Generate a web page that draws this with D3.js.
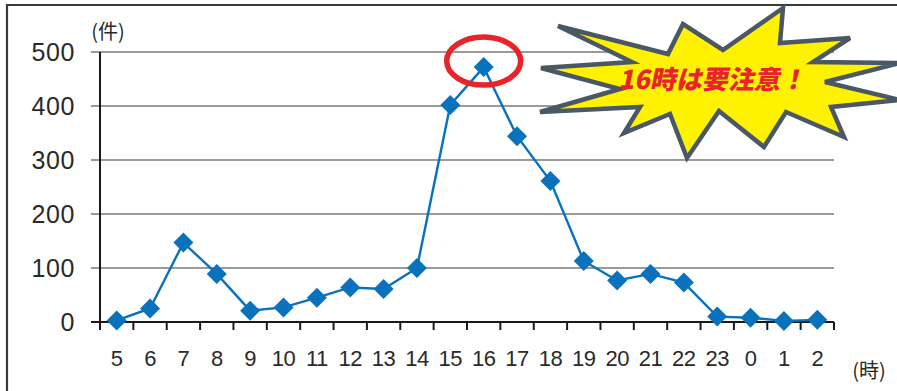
<!DOCTYPE html>
<html lang="ja">
<head>
<meta charset="utf-8">
<script src="https://cdn.jsdelivr.net/npm/d3@7"></script>
<style>
  html, body { margin: 0; padding: 0; background: #fff; }
  svg { display: block; }
</style>
</head>
<body>
<svg id="chart" width="897" height="391"></svg>
<script>
// Hour of day (5時 through 2時 of the next day)
const hours = ["5","6","7","8","9","10","11","12","13","14","15","16","17","18","19","20","21","22","23","0","1","2"];
// Number of cases per hour
const counts = [3, 25, 147, 89, 21, 27, 45, 64, 61, 100, 402, 472, 344, 261, 113, 77, 89, 73, 10, 8, 2, 4];
// Value axis ticks
const yTicks = [0, 100, 200, 300, 400, 500];
// Callout text and the hour it points at
const calloutText = "16時は要注意！";
const peakHour = "16";

const svg = d3.select("#chart");
const W = 897, H = 391;

const x = d3.scaleBand().domain(hours).range([100, 834]).padding(0);
const y = d3.scaleLinear().domain([0, 500]).range([322, 52]);

// panel frame (top and left edges)
svg.append("path")
  .attr("d", `M7,${H} L7,5 L${W},5`)
  .attr("fill", "none").attr("stroke", "#3a3a3a").attr("stroke-width", 2.2);

// horizontal gridlines
svg.append("g").selectAll("line")
  .data(yTicks.filter(d => d > 0))
  .join("line")
  .attr("x1", 91).attr("x2", 834)
  .attr("y1", d => y(d)).attr("y2", d => y(d))
  .attr("stroke", "#9a9a9a").attr("stroke-width", 2);

// y tick labels
svg.append("g").selectAll("text")
  .data(yTicks)
  .join("text")
  .attr("x", 75).attr("y", d => y(d))
  .attr("dy", "0.36em")
  .attr("text-anchor", "end")
  .attr("font-family", "'Liberation Sans', Arial, sans-serif")
  .attr("font-size", 25)
  .attr("letter-spacing", 0.6)
  .attr("fill", "#2a2a2a")
  .text(d => d);

// y axis line
svg.append("line")
  .attr("x1", 100).attr("x2", 100)
  .attr("y1", y(500)).attr("y2", y(0) + 8)
  .attr("stroke", "#1a1a1a").attr("stroke-width", 2);

// x axis line with boundary ticks
const gx = svg.append("g").attr("transform", `translate(0,${y(0)})`);
gx.append("line")
  .attr("x1", 91).attr("x2", 834)
  .attr("stroke", "#1a1a1a").attr("stroke-width", 2.2);
const bounds = hours.map(h => x(h)).concat([x(hours[hours.length - 1]) + x.bandwidth()]);
gx.selectAll("line.tk").data(bounds).join("line")
  .attr("class", "tk")
  .attr("x1", d => d).attr("x2", d => d)
  .attr("y1", 0).attr("y2", 8)
  .attr("stroke", "#1a1a1a").attr("stroke-width", 2);

// x tick labels
svg.append("g").selectAll("text")
  .data(hours)
  .join("text")
  .attr("x", d => x(d) + x.bandwidth() / 2)
  .attr("y", 366)
  .attr("text-anchor", "middle")
  .attr("font-family", "'Liberation Sans', Arial, sans-serif")
  .attr("font-size", 22)
  .attr("letter-spacing", -0.5)
  .attr("fill", "#2a2a2a")
  .text(d => d);

// unit labels
svg.append("text")
  .attr("x", 108).attr("y", 39)
  .attr("text-anchor", "middle")
  .attr("font-family", "'Noto Sans CJK JP', sans-serif")
  .attr("font-size", 20)
  .attr("fill", "#2a2a2a")
  .text("(件)");
svg.append("text")
  .attr("x", 869).attr("y", 378)
  .attr("text-anchor", "middle")
  .attr("font-family", "'Noto Sans CJK JP', sans-serif")
  .attr("font-size", 20)
  .attr("fill", "#2a2a2a")
  .text("(時)");

// series line
const cx = (d, i) => x(hours[i]) + x.bandwidth() / 2;
svg.append("path")
  .datum(counts)
  .attr("d", d3.line().x(cx).y(d => y(d)))
  .attr("fill", "none")
  .attr("stroke", "#0a72bd").attr("stroke-width", 2.4);

// diamond markers
const diamond = d3.symbol().type(d3.symbolSquare).size(200);
svg.append("g").selectAll("path")
  .data(counts)
  .join("path")
  .attr("d", diamond)
  .attr("transform", (d, i) => `translate(${cx(d, i)},${y(d)}) rotate(45)`)
  .attr("fill", "#0a72bd");

// highlight ring around the peak
const peakIdx = hours.indexOf(peakHour);
svg.append("ellipse")
  .attr("cx", x(peakHour) + x.bandwidth() / 2)
  .attr("cy", y(counts[peakIdx]) - 6)
  .attr("rx", 37).attr("ry", 24)
  .attr("fill", "none")
  .attr("stroke", "#e8232a").attr("stroke-width", 5.5);

// starburst callout
const burst = [
  [558, 26], [668, 54], [683, 24], [723, 50], [783, 8], [780, 43],
  [850, 38], [813, 62], [900, 63], [825, 82], [900, 100], [831, 107],
  [844, 137], [786, 112], [764, 147], [719, 111], [687, 158], [670, 114],
  [624, 133], [640, 107], [540, 112], [620, 89], [541, 68], [632, 62]
];
svg.append("path")
  .attr("d", d3.line()(burst) + "Z")
  .attr("fill", "#fff200")
  .attr("stroke", "#4a5866").attr("stroke-width", 4.5)
  .attr("stroke-linejoin", "miter");

svg.append("text")
  .attr("transform", "translate(712,89) skewX(-12)")
  .attr("text-anchor", "middle")
  .attr("font-family", "'Noto Sans CJK JP', sans-serif")
  .attr("font-weight", 900)
  .attr("font-size", 26)
  .attr("fill", "#e8232a")
  .text(calloutText);
</script>
</body>
</html>
